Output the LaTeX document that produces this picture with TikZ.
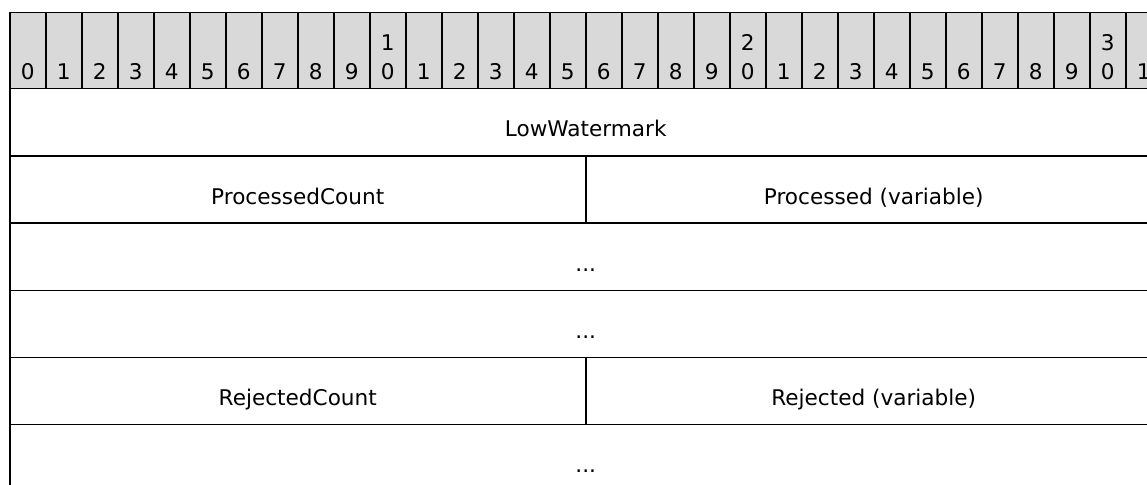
\documentclass[tikz,border=0pt]{standalone}
\usepackage{fontspec}
\setmainfont{DejaVu Sans}
\definecolor{hdrgray}{RGB}{217,217,217}
\newcommand{\tens}[2]{\begin{tabular}[b]{@{}c@{}}#1\\[1.8pt]#2\end{tabular}}
\tikzset{
    bit/.style={draw=black, fill=hdrgray, line width=0.75pt, anchor=north west, inner sep=0pt, minimum width=18pt, text height=33.5pt, text depth=4.5pt},
    fld/.style={draw=black, line width=0.75pt, anchor=north west, inner sep=0pt, text height=24.1pt, text depth=9.5pt},
    half/.style={fld, minimum width=288pt},
    full/.style={fld, minimum width=576pt}
}
\begin{document}
\begin{tikzpicture}[x=0.5pt, y=-0.5pt, every node/.style={font=\fontsize{10.8}{12.8}\selectfont}]

\useasboundingbox (0,0) rectangle (1147,485);
\clip (0,0) rectangle (1147,485);

% Header (bits 0..31)
\foreach \i in {0,...,31} {
    \pgfmathtruncatemacro{\un}{mod(\i,10)}
    \pgfmathtruncatemacro{\tn}{div(\i,10)}
    \ifnum\i>9 \ifnum\un=0 \def\lbl{\tens{\tn}{0}}\else\def\lbl{\un}\fi \else\def\lbl{\un}\fi
    \node[bit] (b\i) at (9+36*\i, 12) {\lbl};
}

% Row 1
\node[full] (lw) at (9, 88) {LowWatermark};

% Row 2
\node[half] (pc) at (9, 155.2) {ProcessedCount};
\node[half] (pv) at (585, 155.2) {Processed (variable)};

% Row 3, 4
\node[full] (d1) at (9, 222.4) {...};
\node[full] (d2) at (9, 289.6) {...};

% Row 5
\node[half] (rc) at (9, 356.8) {RejectedCount};
\node[half] (rv) at (585, 356.8) {Rejected (variable)};

% Row 6
\node[full] (d3) at (9, 424) {...};

\end{tikzpicture}
\end{document}
